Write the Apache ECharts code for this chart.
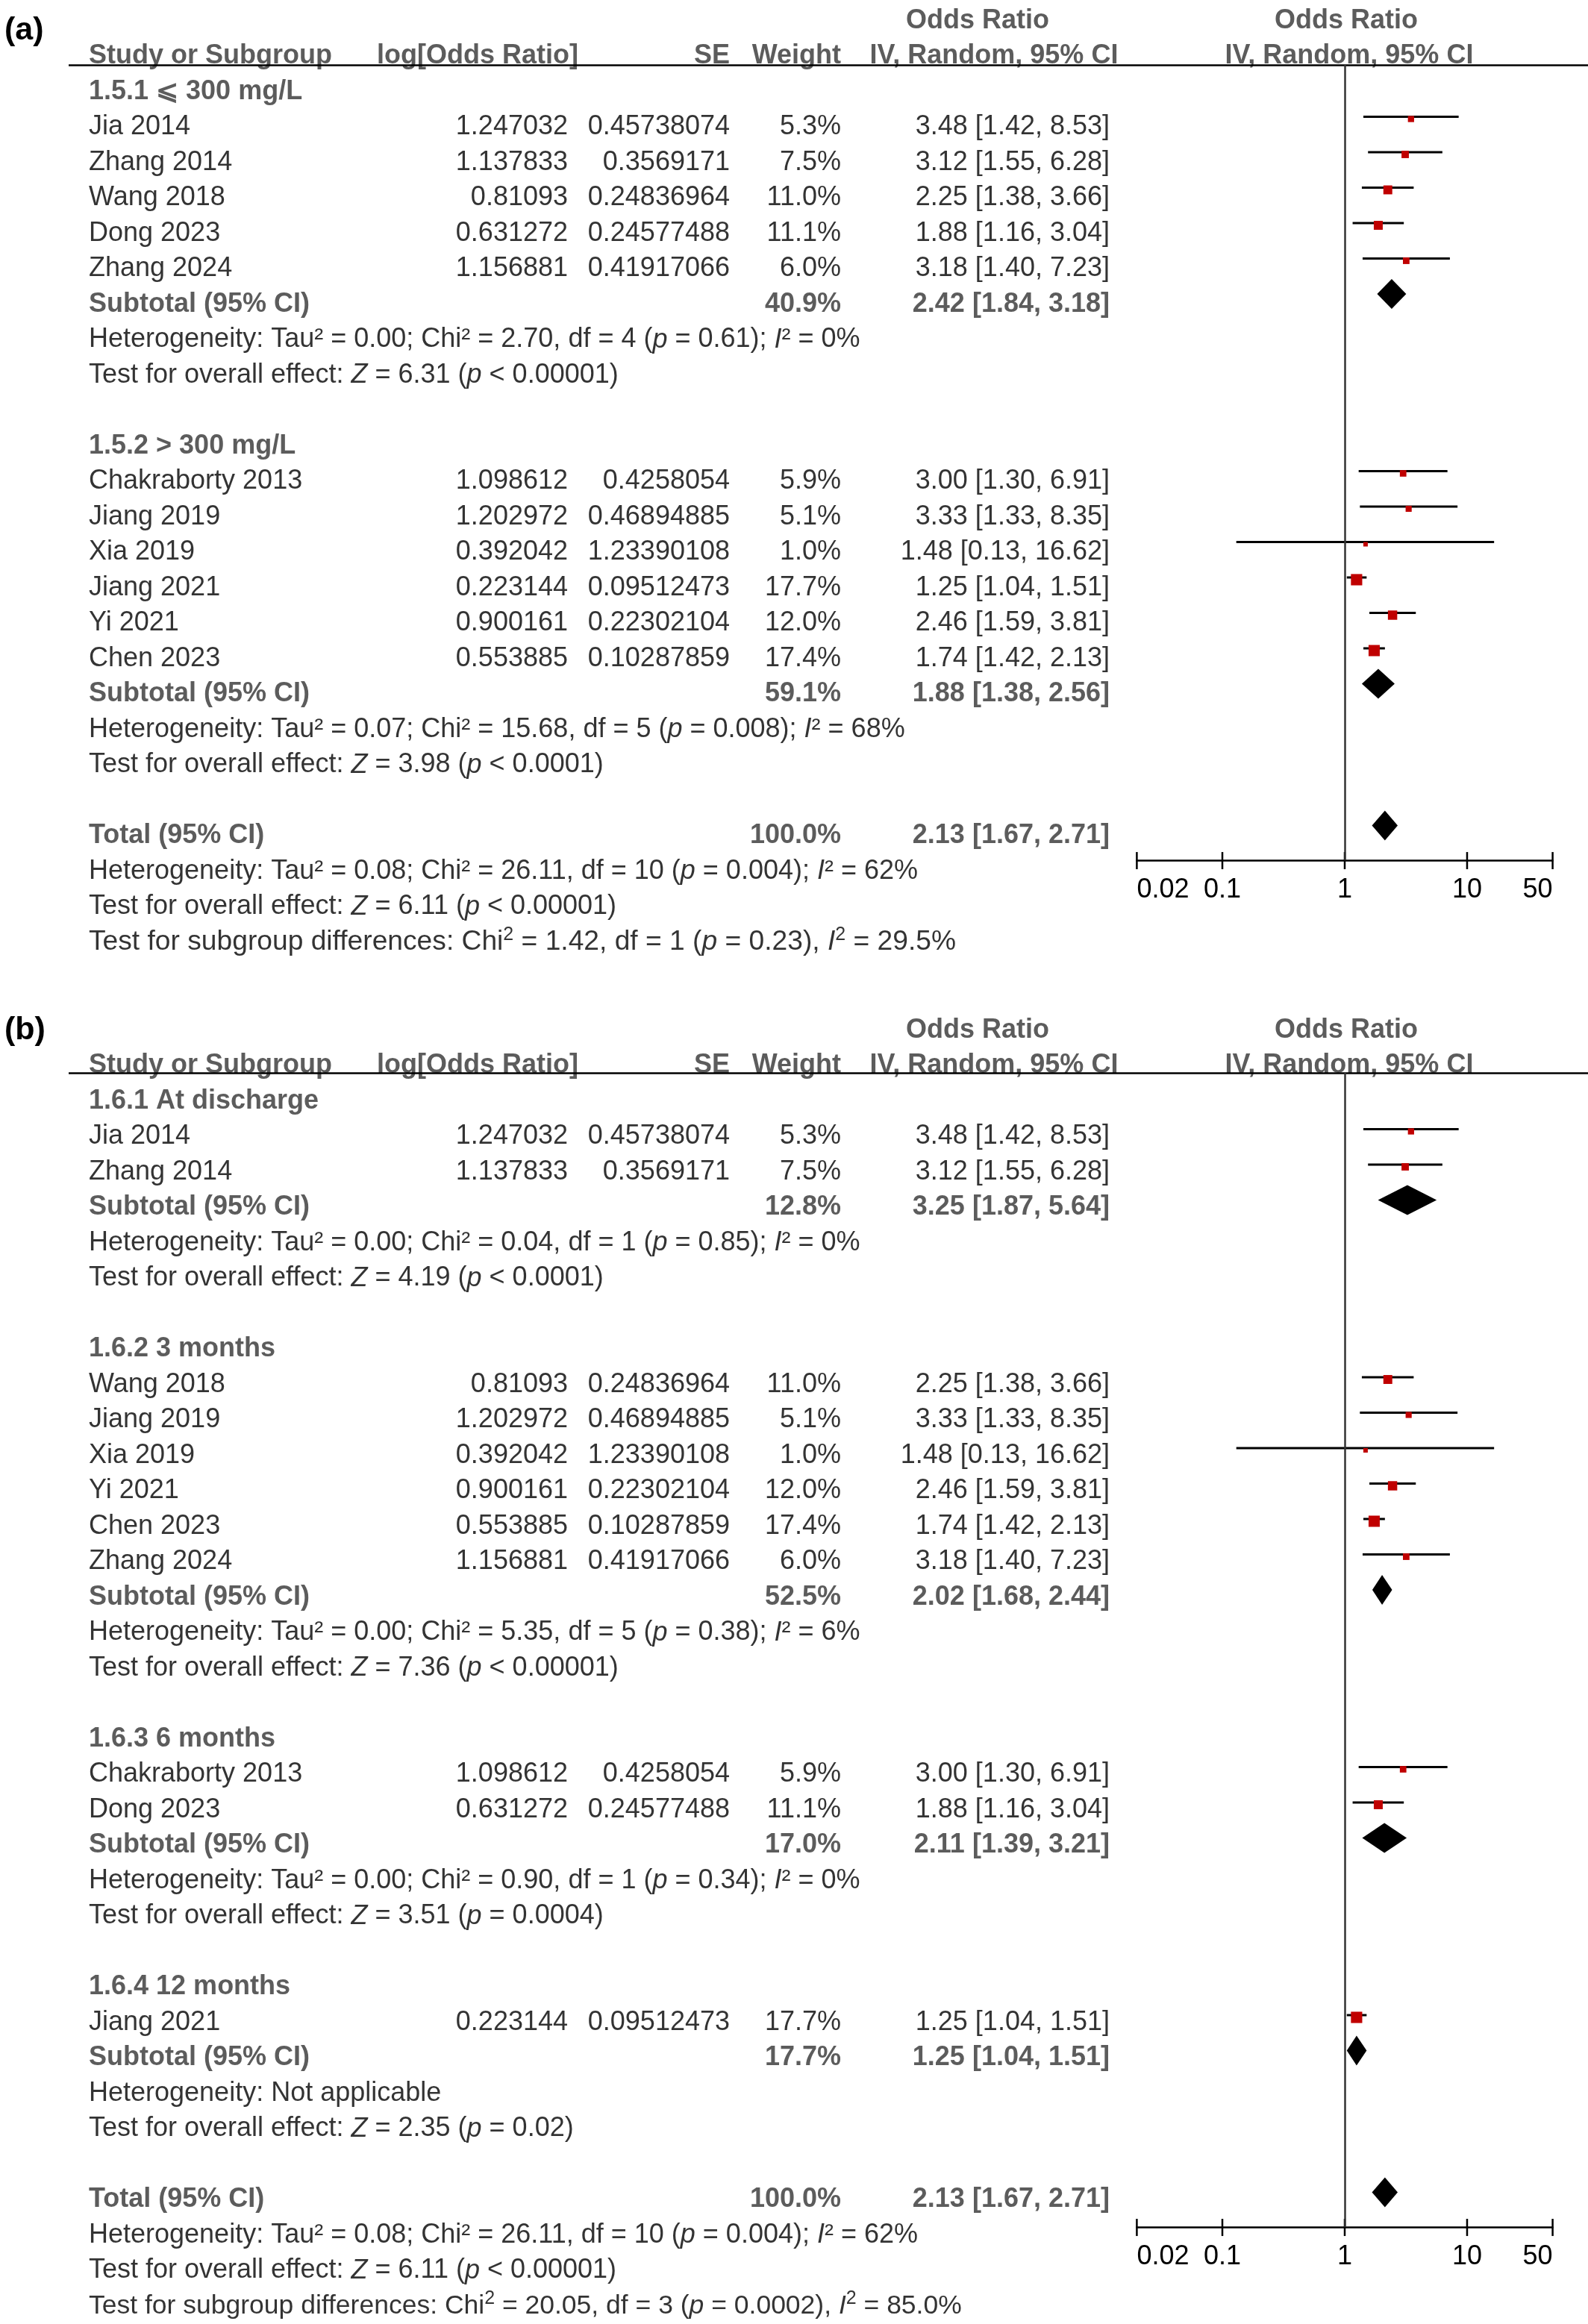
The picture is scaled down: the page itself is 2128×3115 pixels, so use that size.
<!DOCTYPE html>
<html>
<head>
<meta charset="utf-8">
<script src="https://cdn.jsdelivr.net/npm/echarts@6/dist/echarts.min.js"></script>
<style>
html,body{margin:0;padding:0;background:#fff;}
#chart{width:2128px;height:3115px;}
</style>
</head>
<body>
<div id="chart"></div>
<script>
// ---------------- DATA ----------------
const studyNames = ['Jia 2014','Zhang 2014','Wang 2018','Dong 2023','Zhang 2024','Chakraborty 2013','Jiang 2019','Xia 2019','Jiang 2021','Yi 2021','Chen 2023'];
const logOR = ['1.247032','1.137833','0.81093','0.631272','1.156881','1.098612','1.202972','0.392042','0.223144','0.900161','0.553885'];
const seVals = ['0.45738074','0.3569171','0.24836964','0.24577488','0.41917066','0.4258054','0.46894885','1.23390108','0.09512473','0.22302104','0.10287859'];
const weights = [5.3, 7.5, 11.0, 11.1, 6.0, 5.9, 5.1, 1.0, 17.7, 12.0, 17.4];
const orEst  = [3.48, 3.12, 2.25, 1.88, 3.18, 3.00, 3.33, 1.48, 1.25, 2.46, 1.74];
const orLow  = [1.42, 1.55, 1.38, 1.16, 1.40, 1.30, 1.33, 0.13, 1.04, 1.59, 1.42];
const orHigh = [8.53, 6.28, 3.66, 3.04, 7.23, 6.91, 8.35, 16.62, 1.51, 3.81, 2.13];

// Panel (a)
const groupTitlesA = ['1.5.1 \u2A7D 300 mg/L', '1.5.2 > 300 mg/L'];
const groupMembersA = [[0,1,2,3,4],[5,6,7,8,9,10]];
const subWeightsA = [40.9, 59.1];
const subEstA = [2.42, 1.88];
const subLowA = [1.84, 1.38];
const subHighA = [3.18, 2.56];
const hetA = [
  'Heterogeneity: Tau\u00B2 = 0.00; Chi\u00B2 = 2.70, df = 4 ({i|p} = 0.61); {i|I}\u00B2 = 0%',
  'Heterogeneity: Tau\u00B2 = 0.07; Chi\u00B2 = 15.68, df = 5 ({i|p} = 0.008); {i|I}\u00B2 = 68%'
];
const testA = [
  'Test for overall effect: {i|Z} = 6.31 ({i|p} < 0.00001)',
  'Test for overall effect: {i|Z} = 3.98 ({i|p} < 0.0001)'
];
const totalNotesA = [
  'Heterogeneity: Tau\u00B2 = 0.08; Chi\u00B2 = 26.11, df = 10 ({i|p} = 0.004); {i|I}\u00B2 = 62%',
  'Test for overall effect: {i|Z} = 6.11 ({i|p} < 0.00001)',
  'Test for subgroup differences: Chi{s|2} = 1.42, df = 1 ({i|p} = 0.23), {i|I}{s|2} = 29.5%'
];

// Panel (b)
const groupTitlesB = ['1.6.1 At discharge', '1.6.2 3 months', '1.6.3 6 months', '1.6.4 12 months'];
const groupMembersB = [[0,1],[2,6,7,9,10,4],[5,3],[8]];
const subWeightsB = [12.8, 52.5, 17.0, 17.7];
const subEstB = [3.25, 2.02, 2.11, 1.25];
const subLowB = [1.87, 1.68, 1.39, 1.04];
const subHighB = [5.64, 2.44, 3.21, 1.51];
const hetB = [
  'Heterogeneity: Tau\u00B2 = 0.00; Chi\u00B2 = 0.04, df = 1 ({i|p} = 0.85); {i|I}\u00B2 = 0%',
  'Heterogeneity: Tau\u00B2 = 0.00; Chi\u00B2 = 5.35, df = 5 ({i|p} = 0.38); {i|I}\u00B2 = 6%',
  'Heterogeneity: Tau\u00B2 = 0.00; Chi\u00B2 = 0.90, df = 1 ({i|p} = 0.34); {i|I}\u00B2 = 0%',
  'Heterogeneity: Not applicable'
];
const testB = [
  'Test for overall effect: {i|Z} = 4.19 ({i|p} < 0.0001)',
  'Test for overall effect: {i|Z} = 7.36 ({i|p} < 0.00001)',
  'Test for overall effect: {i|Z} = 3.51 ({i|p} = 0.0004)',
  'Test for overall effect: {i|Z} = 2.35 ({i|p} = 0.02)'
];
const totalNotesB = [
  'Heterogeneity: Tau\u00B2 = 0.08; Chi\u00B2 = 26.11, df = 10 ({i|p} = 0.004); {i|I}\u00B2 = 62%',
  'Test for overall effect: {i|Z} = 6.11 ({i|p} < 0.00001)',
  'Test for subgroup differences: Chi{s|2} = 20.05, df = 3 ({i|p} = 0.0002), {i|I}{s|2} = 85.0%'
];

// Overall
const totalWeight = 100.0;
const totalEst = 2.13, totalLow = 1.67, totalHigh = 2.71;

// Axis ticks
const tickValues = [0.02, 0.1, 1, 10, 50];

// ---------------- LAYOUT / STYLE ----------------
const FAM = "'Liberation Sans', Arial, Helvetica, sans-serif";
const FS = 36;
const ROW = 47.5;
const BOLD_COLOR = '#333';
const RED = '#c00000';
const COL = {name:119, logHead:505, logor:761, se:978, weight:1127, ci:1487, orHead:1310, ciHead:1332, plotOr:1804, plotCi:1808};
const PLOT_L = 1523.4, PLOT_R = 2080.6;
const X_MIN = Math.log10(tickValues[0]), X_MAX = Math.log10(tickValues[tickValues.length-1]);

const panels = [
  {label:'(a)', labelTop:20, row0:123, shift:-14, rulePx:87, lastLineFS:37.2,
   titles:groupTitlesA, members:groupMembersA, subW:subWeightsA, subE:subEstA, subL:subLowA, subH:subHighA, het:hetA, test:testA, notes:totalNotesA},
  {label:'(b)', labelTop:1360, row0:1476, shift:-10, rulePx:1438, lastLineFS:35.5,
   titles:groupTitlesB, members:groupMembersB, subW:subWeightsB, subE:subEstB, subL:subLowB, subH:subHighB, het:hetB, test:testB, notes:totalNotesB}
];

const fmt2 = v => v.toFixed(2);
const ciText = (e,l,h) => fmt2(e) + ' [' + fmt2(l) + ', ' + fmt2(h) + ']';

const richStyles = {
  i: {fontStyle:'italic'},
  s: {fontSize:25, fontFamily:FAM, color:'#000', lineHeight:25, verticalAlign:'top'}
};

const option = {
  animation:false,
  backgroundColor:'#fff',
  title:[], grid:[], xAxis:[], yAxis:[], series:[]
};

panels.forEach((p, pi) => {
  const items = [];
  const add = (x, r, text, align, bold, fs) => items.push({
    value:[x, r], text:text,
    label:{align:align, fontWeight: bold ? 'bold' : 'normal', color: bold ? BOLD_COLOR : '#000', fontSize: fs || FS}
  });
  // headers
  add(COL.orHead, -2, 'Odds Ratio', 'center', true);
  add(COL.plotOr, -2, 'Odds Ratio', 'center', true);
  add(COL.name, -1, 'Study or Subgroup', 'left', true);
  add(COL.logHead, -1, 'log[Odds Ratio]', 'left', true);
  add(COL.se, -1, 'SE', 'right', true);
  add(COL.weight, -1, 'Weight', 'right', true);
  add(COL.ciHead, -1, 'IV, Random, 95% CI', 'center', true);
  add(COL.plotCi, -1, 'IV, Random, 95% CI', 'center', true);

  const studyData = [], diamondData = [];
  let r = 0;
  p.titles.forEach((t, gi) => {
    add(COL.name, r, t, 'left', true); r++;
    p.members[gi].forEach(si => {
      add(COL.name, r, studyNames[si], 'left', false);
      add(COL.logor, r, logOR[si], 'right', false);
      add(COL.se, r, seVals[si], 'right', false);
      add(COL.weight, r, weights[si].toFixed(1) + '%', 'right', false);
      add(COL.ci, r, ciText(orEst[si], orLow[si], orHigh[si]), 'right', false);
      studyData.push([Math.log10(orLow[si]), Math.log10(orHigh[si]), Math.log10(orEst[si]), r, weights[si]]);
      r++;
    });
    add(COL.name, r, 'Subtotal (95% CI)', 'left', true);
    add(COL.weight, r, p.subW[gi].toFixed(1) + '%', 'right', true);
    add(COL.ci, r, ciText(p.subE[gi], p.subL[gi], p.subH[gi]), 'right', true);
    diamondData.push([Math.log10(p.subL[gi]), Math.log10(p.subH[gi]), Math.log10(p.subE[gi]), r]);
    r++;
    add(COL.name, r, p.het[gi], 'left', false); r++;
    add(COL.name, r, p.test[gi], 'left', false); r++;
    r++;
  });
  const totalRow = r;
  add(COL.name, r, 'Total (95% CI)', 'left', true);
  add(COL.weight, r, totalWeight.toFixed(1) + '%', 'right', true);
  add(COL.ci, r, ciText(totalEst, totalLow, totalHigh), 'right', true);
  diamondData.push([Math.log10(totalLow), Math.log10(totalHigh), Math.log10(totalEst), r]);
  r++;
  p.notes.forEach((n, ni) => {
    add(COL.name, r, n, 'left', false, ni === p.notes.length - 1 ? p.lastLineFS : FS);
    r++;
  });
  const lastRow = r - 1;

  // table grid
  const tMin = -2.4, tMax = lastRow + 0.6;
  const tg = option.grid.length;
  option.grid.push({left:92, width:2128-92, top:p.row0 + tMin*ROW, height:(tMax - tMin)*ROW, containLabel:false, outerBoundsMode:'none'});
  option.xAxis.push({type:'value', gridIndex:tg, min:92, max:2128, show:false});
  option.yAxis.push({type:'value', gridIndex:tg, min:tMin, max:tMax, inverse:true, show:false});
  const ruleRow = (p.rulePx - p.row0) / ROW;
  option.series.push({
    type:'scatter', xAxisIndex:tg, yAxisIndex:tg, symbolSize:1, clip:false, silent:true,
    itemStyle:{color:'rgba(0,0,0,0)'},
    data:items,
    label:{show:true, position:'inside', verticalAlign:'middle', fontFamily:FAM, fontSize:FS, lineHeight:44,
      formatter: prm => prm.data.text, rich:richStyles},
    labelLayout:{hideOverlap:false},
    markLine:{symbol:['none','none'], silent:true, label:{show:false},
      lineStyle:{color:'#000', width:2.5, type:'solid'}, data:[{yAxis:ruleRow}]}
  });

  // forest grid
  const F0 = p.row0 + p.shift;
  const fMin = (p.rulePx - F0) / ROW;
  const fMax = totalRow + 0.98;
  const fg = option.grid.length;
  option.grid.push({left:PLOT_L, width:PLOT_R - PLOT_L, top:p.rulePx, height:(fMax - fMin)*ROW, containLabel:false, outerBoundsMode:'none'});
  option.xAxis.push({type:'value', gridIndex:fg, min:X_MIN, max:X_MAX, position:'bottom',
    splitLine:{show:false},
    axisLine:{show:true, onZero:false, lineStyle:{color:'#000', width:2.5}},
    axisTick:{show:false},
    axisLabel:{show:true, customValues:tickValues.map(v => Math.log10(v)), margin:22,
      alignMinLabel:'left', alignMaxLabel:'right',
      fontFamily:FAM, fontSize:FS, color:'#000',
      formatter: v => { const t = tickValues.find(tv => Math.abs(Math.log10(tv) - v) < 1e-6); return t === undefined ? '' : String(t); }}
  });
  option.yAxis.push({type:'value', gridIndex:fg, min:fMin, max:fMax, inverse:true, show:false});

  // tick marks crossing the axis line
  option.series.push({
    type:'custom', xAxisIndex:fg, yAxisIndex:fg, silent:true,
    data:tickValues.map(v => [Math.log10(v)]),
    renderItem:(params, api) => {
      const pt = api.coord([api.value(0), fMax]);
      return {type:'line', shape:{x1:pt[0], y1:pt[1]-11, x2:pt[0], y2:pt[1]+12}, style:{stroke:'#000', lineWidth:2.5}};
    }
  });

  // studies: CI lines + weighted squares, with line of no effect
  option.series.push({
    type:'custom', xAxisIndex:fg, yAxisIndex:fg, silent:true,
    data:studyData,
    renderItem:(params, api) => {
      const y = api.coord([0, api.value(3)])[1];
      const xl = api.coord([api.value(0), 0])[0];
      const xh = api.coord([api.value(1), 0])[0];
      const xe = api.coord([api.value(2), 0])[0];
      const s = Math.max(6, 3.6 * Math.sqrt(api.value(4)));
      return {type:'group', children:[
        {type:'line', shape:{x1:xl, y1:y, x2:xh, y2:y}, style:{stroke:'#000', lineWidth:3}},
        {type:'rect', shape:{x:xe - s/2, y:y - s/2 + 3, width:s, height:s}, style:{fill:RED}}
      ]};
    },
    markLine:{symbol:['none','none'], silent:true, label:{show:false},
      lineStyle:{color:'#333', width:2.5, type:'solid'}, data:[{xAxis:0}]}
  });

  // diamonds: subtotals and total
  option.series.push({
    type:'custom', xAxisIndex:fg, yAxisIndex:fg, silent:true,
    data:diamondData,
    renderItem:(params, api) => {
      const y = api.coord([0, api.value(3)])[1];
      const xl = api.coord([api.value(0), 0])[0];
      const xh = api.coord([api.value(1), 0])[0];
      const xe = api.coord([api.value(2), 0])[0];
      const h = 20;
      return {type:'polygon', shape:{points:[[xl,y],[xe,y-h],[xh,y],[xe,y+h]]}, style:{fill:'#000'}};
    }
  });

  option.title.push({text:p.label, left:6, top:p.labelTop, padding:0,
    textStyle:{fontFamily:FAM, fontSize:43, fontWeight:'bold', color:'#000'}});
});

const chart = echarts.init(document.getElementById('chart'), null, {renderer:'canvas'});
chart.setOption(option);
</script>
</body>
</html>
